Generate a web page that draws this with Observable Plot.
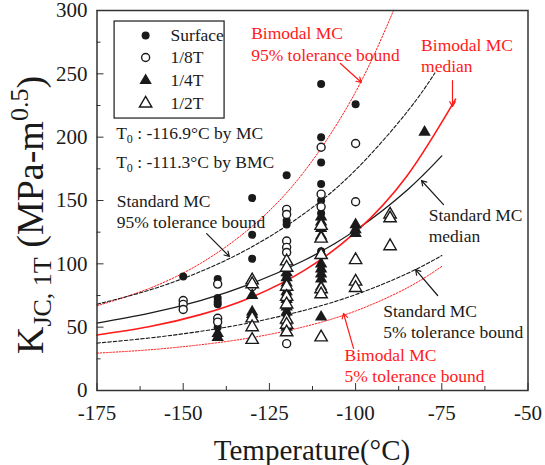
<!DOCTYPE html>
<html><head><meta charset="utf-8">
<script src="https://cdn.jsdelivr.net/npm/d3@7"></script>
<script src="https://cdn.jsdelivr.net/npm/@observablehq/plot@0.6"></script>
<style>body{margin:0;background:#fff} svg, svg text{font-family:"Liberation Serif","Times New Roman","DejaVu Serif",serif !important}</style>
</head><body><div id="chart"></div>
<script>
// ---- data points (temperature °C, K_JC,1T MPa·m^0.5) ----
const surfaceT = [-150,-140,-140,-140,-140,-140,-130,-130,-130,-120,-120,-120,-120,-120,-120,-120,-110,-110,-110,-110,-110,-110,-110,-110,-110,-100];
const surfaceK = [90,88,73,70,68,50,152,123,104,170,134,131,90,80,70,60,242,200,180,163,150,140,130,110,95,226];
const eighthT = [-150,-150,-150,-140,-140,-140,-130,-120,-120,-120,-120,-120,-120,-120,-110,-110,-110,-110,-100,-100];
const eighthK = [71,68,64,84,57,54,82,143,139,118,113,109,75,37,192,155,145,107,195,149];
const quarterT = [-140,-140,-130,-130,-130,-120,-120,-120,-120,-120,-120,-120,-120,-120,-110,-110,-110,-110,-110,-110,-110,-110,-110,-110,-100,-100,-100,-80];
const quarterK = [45,42,75,62,60,93,89,85,78,72,66,62,55,50,137,133,128,122,100,96,92,88,82,58,131,127,124,204];
const halfT = [-130,-130,-130,-130,-130,-120,-120,-120,-120,-120,-120,-120,-120,-110,-110,-110,-110,-110,-110,-100,-100,-100,-90,-90,-90];
const halfK = [87,84,57,50,40,102,97,82,74,68,56,52,46,130,120,107,80,76,42,103,86,81,139,136,114];
const seriesNames = ["Surface","1/8T","1/4T","1/2T"];

// ---- curves ----
const mcMedT = [-175,-160,-145,-130,-115,-100,-85,-75];
const mcMedK = [53.2,60.9,71.0,84.6,102.6,126.5,158.3,185.2];
const mc95T = [-175,-160,-145,-130,-115,-100,-85,-77];
const mc95K = [68.1,79.1,93.9,113.5,139.5,174.1,220.2,250.7];
const mc05T = [-175,-160,-145,-130,-115,-100,-85,-75];
const mc05K = [37.4,41.4,46.7,53.8,63.2,75.7,92.4,106.5];
const bmMedT = [-175,-160,-145,-130,-115,-100,-85,-71];
const bmMedK = [43.8,50.3,59.9,73.9,94.6,125.0,169.7,230];
const bm95T = [-175,-160,-145,-130,-115,-100,-89];
const bm95K = [66.9,80.4,100.3,129.6,172.5,235.7,300];
const bm05T = [-175,-160,-145,-130,-115,-100,-85,-75];
const bm05K = [29.5,32.1,36.1,41.8,50.3,62.8,81.1,98.0];

// ---- tick values ----
const xMajor = [-175,-150,-125,-100,-75,-50];
const xMinor = [-162.5,-137.5,-112.5,-87.5,-62.5];
const yMajor = [0,50,100,150,200,250,300];
const yMinor = [25,75,125,175,225,275];

const zip = (T, K) => T.map((t, i) => ({t, k: K[i]}));
const RED = "#ff1a1a", BLK = "#1a1a1a";
const FONT = '"Liberation Serif", "Times New Roman", "DejaVu Serif", serif';

const series = [
  {name: seriesNames[0], data: zip(surfaceT, surfaceK), symbol: "circle", fill: BLK, stroke: "none"},
  {name: seriesNames[1], data: zip(eighthT, eighthK), symbol: "circle", fill: "white", stroke: BLK},
  {name: seriesNames[2], data: zip(quarterT, quarterK), symbol: "triangle", fill: BLK, stroke: "none"},
  {name: seriesNames[3], data: zip(halfT, halfK), symbol: "triangle", fill: "white", stroke: BLK}
];

const curves = [
  {data: zip(bm95T, bm95K), stroke: RED, w: 1, dash: "1.6,1.6"},
  {data: zip(bm05T, bm05K), stroke: RED, w: 1, dash: "1.6,1.6"},
  {data: zip(mc95T, mc95K), stroke: BLK, w: 1.1, dash: "3.5,2"},
  {data: zip(mc05T, mc05K), stroke: BLK, w: 1.1, dash: "3.5,2"},
  {data: zip(mcMedT, mcMedK), stroke: BLK, w: 1.3, dash: null},
  {data: zip(bmMedT, bmMedK), stroke: RED, w: 1.6, dash: null}
];

// annotations (data coordinates)
const notes = [
  {t: -130.3, k: 274.3, text: "Bimodal MC\n95% tolerance bound", c: RED},
  {t: -81.0, k: 265.3, text: "Bimodal MC\nmedian", c: RED},
  {t: -169.3, k: 142.1, text: "Standard MC\n95% tolerance bound", c: BLK},
  {t: -78.8, k: 131.1, text: "Standard MC\nmedian", c: BLK},
  {t: -92.0, k: 55.3, text: "Standard MC\n5% tolerance bound", c: BLK},
  {t: -103.2, k: 20.5, text: "Bimodal MC\n5% tolerance bound", c: RED}
];
const arrows = [
  {t1: -104.4, k1: 258.2, t2: -98.3, k2: 243.2, c: RED},
  {t1: -71.9, k1: 244.7, t2: -71.9, k2: 224.2, c: RED},
  {t1: -143.2, k1: 123.9, t2: -136.6, k2: 105.8, c: BLK},
  {t1: -74.5, k1: 146.8, t2: -80.9, k2: 165.8, c: BLK},
  {t1: -76.2, k1: 75.0, t2: -82.6, k2: 95.5, c: BLK},
  {t1: -100.6, k1: 33.2, t2: -103.5, k2: 60.8, c: RED}
];
const legendBox = {t1: -169.9, t2: -138.0, k1: 214.7, k2: 291.3};
const legendSymT = -160.9, legendTextT = -153.7;
const legendK = [280.3, 262.9, 244.7, 226.6];

const marks = [];
for (const c of curves) {
  marks.push(Plot.line(c.data, {x: "t", y: "k", curve: "natural", stroke: c.stroke, strokeWidth: c.w, strokeDasharray: c.dash}));
}
series.forEach((s, i) => {
  const r = s.symbol === "circle" ? 4 : 4.6;
  marks.push(Plot.dot(s.data, {x: "t", y: "k", symbol: s.symbol, r, fill: s.fill, stroke: s.stroke, strokeWidth: 1.4}));
  marks.push(Plot.dot([{t: legendSymT, k: legendK[i]}], {x: "t", y: "k", symbol: s.symbol, r, fill: s.fill, stroke: s.stroke, strokeWidth: 1.4}));
});
marks.push(Plot.text(series.map((s, i) => ({t: legendTextT, k: legendK[i], text: s.name})), {x: "t", y: "k", text: "text", textAnchor: "start", fontSize: 17.5, fill: BLK}));
marks.push(Plot.rect([legendBox], {x1: "t1", x2: "t2", y1: "k1", y2: "k2", fill: "none", stroke: BLK, strokeWidth: 1.2}));
marks.push(Plot.text(notes, {x: "t", y: "k", text: "text", fill: "c", textAnchor: "start", fontSize: 17.5, lineHeight: 1.25}));
marks.push(Plot.arrow(arrows, {x1: "t1", y1: "k1", x2: "t2", y2: "k2", stroke: "c", strokeWidth: 1.2, headLength: 7}));
marks.push(Plot.frame({stroke: "#333", strokeWidth: 1.5}));
marks.push(Plot.axisX({ticks: xMajor, tickSize: -7, tickPadding: 22, fontSize: 21, tickFormat: d => String(d), label: null, stroke: "#333"}));
marks.push(Plot.axisX({ticks: xMinor, tickSize: -4, tickFormat: () => "", label: null, stroke: "#333"}));
marks.push(Plot.axisY({ticks: yMajor, tickSize: -7, tickPadding: 16.5, fontSize: 21, tickFormat: d => String(d), label: null, stroke: "#333"}));
marks.push(Plot.axisY({ticks: yMinor, tickSize: -4, tickFormat: () => "", label: null, stroke: "#333"}));

const plot = Plot.plot({
  width: 545, height: 465,
  marginLeft: 96.5, marginRight: 17.5, marginTop: 10, marginBottom: 75,
  x: {domain: [-175, -50]},
  y: {domain: [0, 300]},
  color: {type: "identity"},
  style: {fontFamily: FONT, background: "white", color: BLK, overflow: "visible"},
  marks
});
document.getElementById("chart").appendChild(plot);

const svg = d3.select(plot);
const xs = plot.scale("x"), ys = plot.scale("y");
// T0 lines
const t0lines = [["-116.9°C by MC", 202.7], ["-111.3°C by BMC", 180.2]];
for (const [txt, k] of t0lines) {
  const el = svg.append("text").attr("x", xs.apply(-169.3)).attr("y", ys.apply(k) + 6)
    .attr("text-anchor", "start").attr("font-size", 17.5).attr("fill", BLK);
  el.append("tspan").text("T");
  el.append("tspan").attr("font-size", 12).attr("dy", 4).text("0");
  el.append("tspan").attr("dy", -4).text(" : " + txt);
}
// axis titles
svg.append("text").attr("x", 312).attr("y", 460).attr("text-anchor", "middle")
  .attr("font-size", 29).attr("fill", BLK).text("Temperature(°C)");
const yl = svg.append("text").attr("transform", "translate(43,215) rotate(-90)")
  .attr("text-anchor", "middle").attr("font-size", 38).attr("fill", BLK);
yl.append("tspan").text("K");
yl.append("tspan").attr("font-size", 26).attr("dy", 8).text("JC, 1T");
yl.append("tspan").attr("dy", -8).text(" (MPa-m");
yl.append("tspan").attr("font-size", 26).attr("dy", -15).text("0.5");
yl.append("tspan").attr("dy", 15).text(")");
</script>
</body></html>
